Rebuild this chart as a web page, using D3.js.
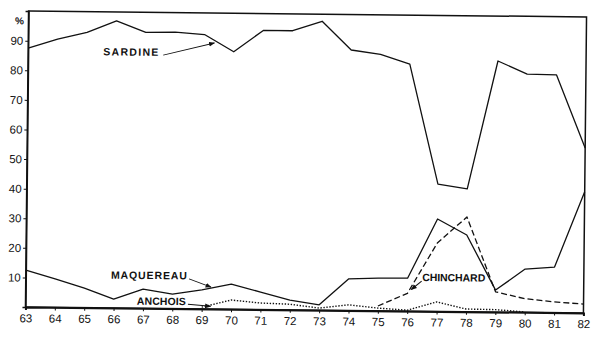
<!DOCTYPE html>
<html>
<head>
<meta charset="utf-8">
<script src="https://cdn.jsdelivr.net/npm/d3@7"></script>
<style>
  body { margin: 0; background: #fff; }
  svg { display: block; }
  .tick text { font-family: "Liberation Sans", Arial, sans-serif; font-size: 11.5px; fill: #111; }
  .lbl { font-family: "Liberation Sans", Arial, sans-serif; font-size: 10.5px; font-weight: bold; fill: #111; }
</style>
</head>
<body>
<div id="chart"></div>
<script>
// years 1963 - 1982, share of catch (%)
const years = d3.range(63, 83);
const sardine   = [87.5, 90.6, 93, 97, 93.2, 93.4, 92.7, 87, 94.3, 94.3, 97.6, 88, 86.6, 83.4, 43, 41.5, 84.8, 80.5, 80.3, 55.7];
const maquereau = [12.5, 9.6, 6.6, 3, 6.5, 4.9, 6.4, 8.5, 5.9, 3.3, 1.8, 10.7, 11, 11.1, 31.2, 25.9, 7.4, 14.6, 15.4, 40.9];
const chinchard = [null, null, null, null, null, null, null, null, null, null, null, null, 1.6, 6, 23.1, 32, 6.8, 4.6, 3.6, 3];
const anchois   = [null, null, null, null, null, null, 0.6, 3.1, 2.2, 1.9, 0.7, 1.9, 0.9, 0.3, 3.2, 0.9, 0.8, 0.1, null, null];
const yTicks = [10, 20, 30, 40, 50, 60, 70, 80, 90];

// annotation labels: text, text start [year, value], arrow from/to [year, value]
const labels = [
  {text: "SARDINE",   at: [65.56, 85.3], len: 55, from: [67.6, 85.6],  to: [69.34, 89.9]},
  {text: "MAQUEREAU", at: [65.9, 9.9],   len: 76, from: [68.56, 10.1], to: [69.31, 7.4]},
  {text: "ANCHOIS",   at: [66.79, 1.2],  len: 49, from: [68.53, 1.5],  to: [69.3, 0.9]},
  {text: "CHINCHARD", at: [76.5, 10.2],  len: 63, from: [76.48, 10.2], to: [76.13, 7.3]}
];

const W = 600, H = 339;
const margin = {top: 14, right: 15, bottom: 29, left: 27};
const width = W - margin.left - margin.right;
const height = H - margin.top - margin.bottom;

const svg = d3.select("#chart").append("svg")
  .attr("width", W).attr("height", H);

svg.append("defs").append("marker")
  .attr("id", "arr")
  .attr("viewBox", "0 0 10 10")
  .attr("refX", 9).attr("refY", 5)
  .attr("markerWidth", 6).attr("markerHeight", 6)
  .attr("orient", "auto")
  .append("path")
  .attr("d", "M0,1 L10,5 L0,9 Z")
  .attr("fill", "#111");

// the scanned figure is slightly tilted
const root = svg.append("g")
  .attr("transform", "rotate(0.6," + (margin.left + width / 2) + "," + (margin.top + height / 2) + ")");

const g = root.append("g")
  .attr("transform", "translate(" + margin.left + "," + margin.top + ")");

const x = d3.scaleLinear().domain([63, 82]).range([0, width]);
const y = d3.scaleLinear().domain([0, 100]).range([height, 0]);

// frame
g.append("rect")
  .attr("x", 0).attr("y", 0)
  .attr("width", width).attr("height", height)
  .attr("fill", "none").attr("stroke", "#111").attr("stroke-width", 1.5);

g.append("g")
  .attr("transform", "translate(0," + height + ")")
  .call(d3.axisBottom(x).tickValues(years).tickFormat(d => d).tickSize(3).tickPadding(4))
  .call(a => a.select(".domain").attr("stroke-width", 2).attr("stroke", "#111"))
  .call(a => a.selectAll(".tick line").attr("stroke", "#111"));

g.append("g")
  .call(d3.axisLeft(y).tickValues(yTicks).tickSize(3).tickPadding(2))
  .call(a => a.select(".domain").attr("stroke-width", 1.5).attr("stroke", "#111"))
  .call(a => a.selectAll(".tick line").attr("stroke", "#111"))
  .call(a => a.append("text")
    .attr("x", -9).attr("y", y(95.5))
    .attr("fill", "#111")
    .attr("text-anchor", "middle")
    .style("font-family", "Liberation Sans, Arial, sans-serif")
    .style("font-size", "10px")
    .style("font-weight", "bold")
    .text("%"));

const line = d3.line()
  .defined(d => d.v !== null)
  .x(d => x(d.year))
  .y(d => y(d.v));

const series = [
  {values: sardine,   dash: null},
  {values: maquereau, dash: null},
  {values: chinchard, dash: "6,3"},
  {values: anchois,   dash: "1.4,1.6"}
];

g.selectAll(".series")
  .data(series)
  .enter()
  .append("path")
  .attr("class", "series")
  .attr("fill", "none")
  .attr("stroke", "#111")
  .attr("stroke-width", d => d.dash === "1.4,1.6" ? 1.4 : 1.3)
  .attr("stroke-dasharray", d => d.dash)
  .attr("stroke-linejoin", "round")
  .attr("d", d => line(d.values.map((v, i) => ({year: years[i], v: v}))));

// labels with arrows
g.selectAll(".lbl")
  .data(labels)
  .enter()
  .append("text")
  .attr("class", "lbl")
  .attr("x", d => x(d.at[0]))
  .attr("y", d => y(d.at[1]))
  .attr("textLength", d => d.len)
  .attr("lengthAdjust", "spacing")
  .text(d => d.text);

g.selectAll(".arrow")
  .data(labels)
  .enter()
  .append("line")
  .attr("class", "arrow")
  .attr("x1", d => x(d.from[0]))
  .attr("y1", d => y(d.from[1]))
  .attr("x2", d => x(d.to[0]))
  .attr("y2", d => y(d.to[1]))
  .attr("stroke", "#111")
  .attr("stroke-width", 1)
  .attr("marker-end", "url(#arr)");
</script>
</body>
</html>
